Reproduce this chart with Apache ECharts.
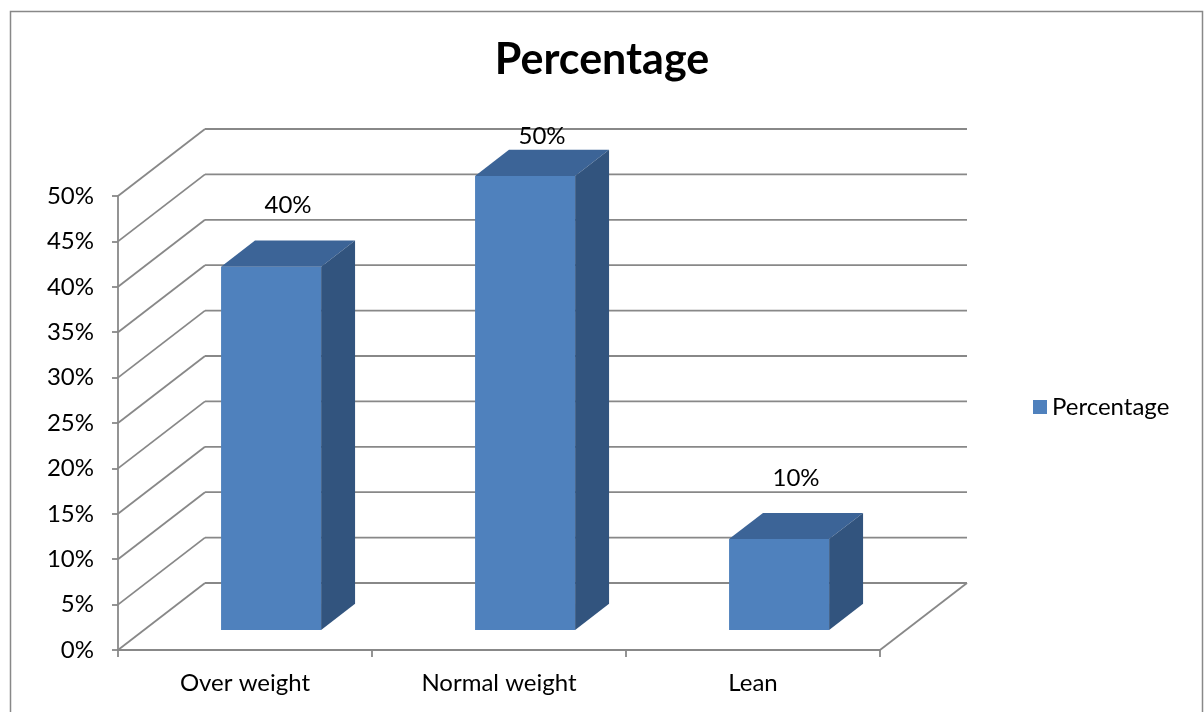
<!DOCTYPE html>
<html>
<head>
<meta charset="utf-8">
<script src="https://cdn.jsdelivr.net/npm/echarts@6/dist/echarts.min.js"></script>
<style>
  html, body { margin: 0; padding: 0; background: #fff; }
  #chart { width: 1204px; height: 712px; }
</style>
</head>
<body>
<div id="chart"></div>
<script>
const categories = ['Over weight', 'Normal weight', 'Lean']
const percentages = [40, 50, 10]
const yTicks = [0, 5, 10, 15, 20, 25, 30, 35, 40, 45, 50]

// fake 3d: back wall sits this far behind the front plane
const DEPTH_X = 87
const DEPTH_Y = 67
const FRONT_AT = 0.3   // bar front face, as a part of the depth
const BAR_DEPTH = 0.39
const BAR_WIDTH = 0.394
const FONT = 'Lato, "Open Sans", sans-serif'
const LINE = '#888888'
const LINE_W = 1.8

const chart = echarts.init(document.getElementById('chart'))

function renderWall(params, api) {
  const v = api.value(1)
  const cs = params.coordSys
  const y = api.coord([0, v])[1]
  const left = cs.x
  const right = cs.x + cs.width
  const style = { stroke: LINE, lineWidth: LINE_W, fill: null }
  const children = [
    { type: 'line', shape: { x1: left, y1: y, x2: left + DEPTH_X, y2: y - DEPTH_Y }, style },
    { type: 'line', shape: { x1: left + DEPTH_X, y1: y - DEPTH_Y, x2: right + DEPTH_X, y2: y - DEPTH_Y }, style }
  ]
  if (v === 0) {
    children.push({ type: 'line', shape: { x1: right, y1: y, x2: right + DEPTH_X, y2: y - DEPTH_Y }, style })
  }
  return { type: 'group', children }
}

function renderBar(params, api) {
  const i = api.value(0)
  const v = api.value(1)
  const base = api.coord([i, 0])
  const top = api.coord([i, v])
  const band = api.size([1, 0])[0]
  const w = band * BAR_WIDTH
  const x0 = base[0] - w / 2 + FRONT_AT * DEPTH_X
  const x1 = x0 + w
  const yt = top[1] - FRONT_AT * DEPTH_Y
  const yb = base[1] - FRONT_AT * DEPTH_Y
  const ddx = BAR_DEPTH * DEPTH_X
  const ddy = BAR_DEPTH * DEPTH_Y
  const wallTop = params.coordSys.y - DEPTH_Y
  const labelY = Math.max(yt - ddy - 35, wallTop + 7)
  return {
    type: 'group',
    children: [
      { type: 'rect', shape: { x: x0, y: yt, width: w, height: yb - yt }, style: { fill: '#4F81BD' } },
      { type: 'polygon', shape: { points: [[x0, yt], [x1, yt], [x1 + ddx, yt - ddy], [x0 + ddx, yt - ddy]] }, style: { fill: '#3C6497' } },
      { type: 'polygon', shape: { points: [[x1, yt], [x1 + ddx, yt - ddy], [x1 + ddx, yb - ddy], [x1, yb]] }, style: { fill: '#32547E' } },
      {
        type: 'text',
        style: {
          x: (x0 + x1) / 2 + ddx / 2, y: labelY,
          text: v + '%', fill: '#000', font: '24px ' + FONT,
          align: 'center', verticalAlign: 'middle'
        }
      }
    ]
  }
}

chart.setOption({
  backgroundColor: '#fff',
  animation: false,
  title: {
    text: 'Percentage',
    left: 'center',
    top: 34,
    textStyle: { fontFamily: FONT, fontSize: 43, fontWeight: 'bold', color: '#000' }
  },
  legend: {
    data: ['Percentage'],
    left: 1028,
    top: 390,
    icon: 'rect',
    itemWidth: 14,
    itemHeight: 14,
    itemGap: 8,
    textStyle: { fontFamily: FONT, fontSize: 24, color: '#000' }
  },
  graphic: [{
    type: 'rect',
    shape: { x: 10.5, y: 11.5, width: 1192, height: 720 },
    style: { fill: null, stroke: LINE, lineWidth: 1.5 },
    silent: true
  }],
  grid: {
    left: 118,
    right: 324,
    top: 196,
    bottom: 62,
    outerBoundsMode: 'none'
  },
  xAxis: {
    type: 'category',
    data: categories,
    boundaryGap: true,
    axisLine: { lineStyle: { color: LINE, width: LINE_W } },
    axisTick: { show: true, length: 7, lineStyle: { color: LINE, width: LINE_W } },
    axisLabel: { color: '#000', fontFamily: FONT, fontSize: 24, margin: 21 },
    splitLine: { show: false }
  },
  yAxis: {
    type: 'value',
    min: 0,
    max: 50,
    interval: 5,
    axisLine: { show: true, lineStyle: { color: LINE, width: LINE_W } },
    axisTick: { show: true, length: 6, lineStyle: { color: LINE, width: LINE_W } },
    axisLabel: { formatter: '{value}%', color: '#000', fontFamily: FONT, fontSize: 24, margin: 24 },
    splitLine: { show: false }
  },
  series: [
    {
      name: 'wall',
      type: 'custom',
      silent: true,
      renderItem: renderWall,
      data: yTicks.map((t) => [0, t])
    },
    {
      name: 'Percentage',
      type: 'custom',
      itemStyle: { color: '#4F81BD' },
      renderItem: renderBar,
      data: percentages.map((p, i) => [i, p])
    }
  ]
})
</script>
</body>
</html>
